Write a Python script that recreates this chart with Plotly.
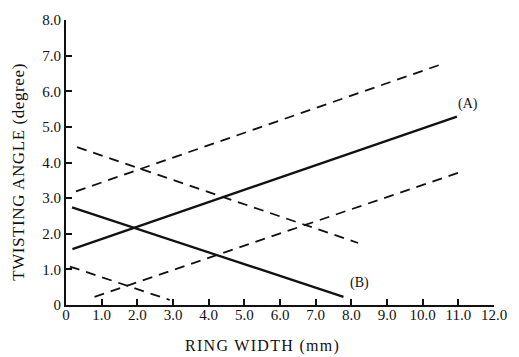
import plotly.graph_objects as go

# ---- data ----
line_a_x = [0.18, 10.96]
line_a_y = [1.57, 5.29]
line_b_x = [0.17, 7.78]
line_b_y = [2.74, 0.23]
upper_rise_x = [0.28, 10.62]
upper_rise_y = [3.19, 6.79]
upper_fall_x = [0.31, 8.19]
upper_fall_y = [4.43, 1.74]
lower_rise_x = [0.80, 11.08]
lower_rise_y = [0.23, 3.74]
lower_fall_x = [0.11, 2.91]
lower_fall_y = [1.08, 0.14]

x_tickvals = [0, 1, 2, 3, 4, 5, 6, 7, 8, 9, 10, 11, 12]
x_ticktext = ["0", "1.0", "2.0", "3.0", "4.0", "5.0", "6.0", "7.0", "8.0", "9.0", "10.0", "11.0", "12.0"]
y_tickvals = [0, 1, 2, 3, 4, 5, 6, 7, 8]
y_ticktext = ["0", "1.0", "2.0", "3.0", "4.0", "5.0", "6.0", "7.0", "8.0"]

label_a = ("(A)", 11.28, 5.63)
label_b = ("(B)", 8.24, 0.61)

FONT = "Liberation Serif"
INK = "#111111"
DASH = "10px,7px"

fig = go.Figure()

def add_line(xs, ys, dashed):
    fig.add_trace(go.Scatter(
        x=xs, y=ys, mode="lines", showlegend=False, hoverinfo="skip",
        line=dict(color=INK, width=1.8 if dashed else 2.3,
                  dash=DASH if dashed else "solid"),
    ))

add_line(upper_rise_x, upper_rise_y, True)
add_line(upper_fall_x, upper_fall_y, True)
add_line(lower_rise_x, lower_rise_y, True)
add_line(lower_fall_x, lower_fall_y, True)
add_line(line_a_x, line_a_y, False)
add_line(line_b_x, line_b_y, False)

for txt, lx, ly in (label_a, label_b):
    fig.add_annotation(x=lx, y=ly, xref="x", yref="y", text=txt, showarrow=False,
                       font=dict(family=FONT, size=14, color=INK))

fig.add_annotation(x=0.459, y=-0.145, xref="paper", yref="paper",
                   text='<span style="letter-spacing:1.3px">RING WIDTH (mm)</span>',
                   showarrow=False, xanchor="center", yanchor="middle",
                   font=dict(family=FONT, size=16, color=INK))
fig.add_annotation(x=-0.110, y=0.467, xref="paper", yref="paper",
                   text='<span style="letter-spacing:0.6px">TWISTING ANGLE (degree)</span>',
                   textangle=-90, showarrow=False, xanchor="center", yanchor="middle",
                   font=dict(family=FONT, size=17, color=INK))

axis_common = dict(
    showgrid=False, zeroline=False, showline=True, linecolor=INK, linewidth=2,
    ticks="inside", ticklen=6, tickwidth=1.5, tickcolor=INK,
    tickfont=dict(family=FONT, size=15, color=INK),
)
fig.update_xaxes(range=[0, 12], tickmode="array", tickvals=x_tickvals,
                 ticktext=x_ticktext, ticklabelstandoff=-5, **axis_common)
fig.update_yaxes(range=[0, 8], tickmode="array", tickvals=y_tickvals,
                 ticktext=y_ticktext, **axis_common)

fig.update_layout(
    width=519, height=357,
    margin=dict(l=66, r=17, t=16, b=52),
    paper_bgcolor="white", plot_bgcolor="white",
    showlegend=False,
)

fig.write_html("out.html")
